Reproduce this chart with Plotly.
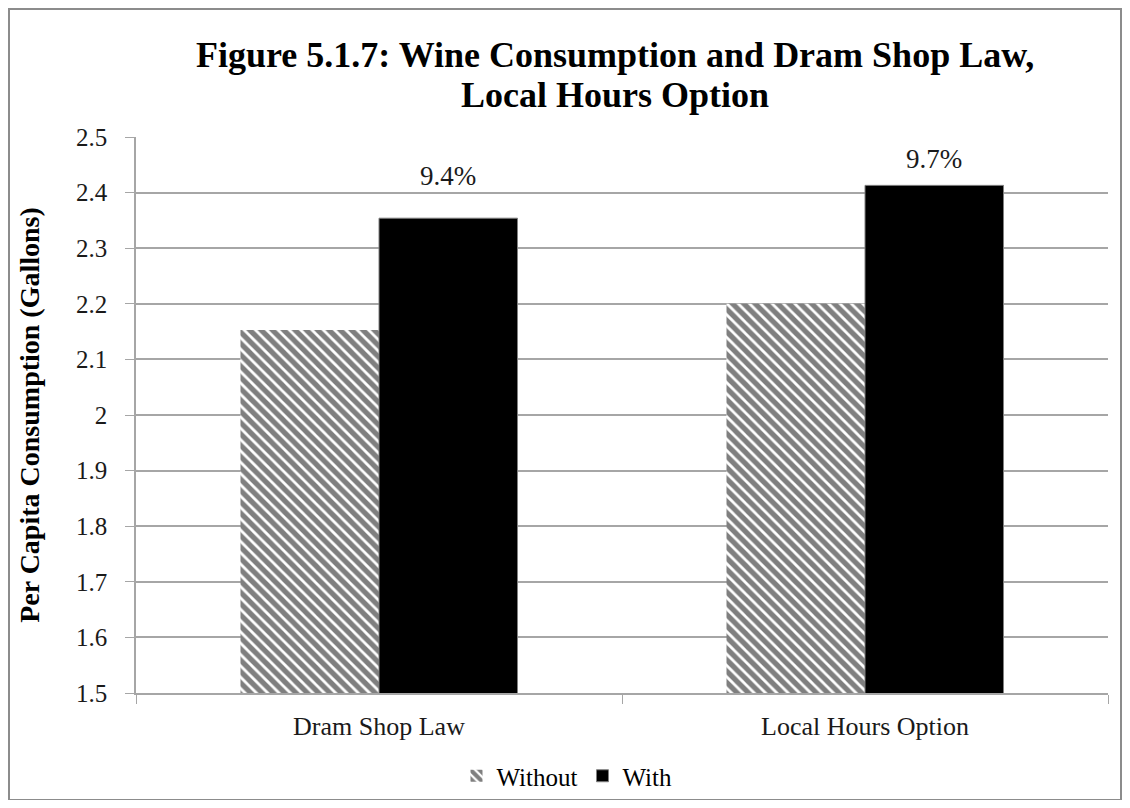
import plotly.graph_objects as go

categories = ["Dram Shop Law", "Local Hours Option"]
without_vals = [2.153, 2.200]
with_vals = [2.354, 2.413]
pct_labels = ["9.4%", "9.7%"]
y_ticks = [1.5, 1.6, 1.7, 1.8, 1.9, 2.0, 2.1, 2.2, 2.3, 2.4, 2.5]
y_tick_text = ["1.5", "1.6", "1.7", "1.8", "1.9", "2", "2.1", "2.2", "2.3", "2.4", "2.5"]
title_lines = ["Figure 5.1.7: Wine Consumption and Dram Shop Law,", "Local Hours Option"]

# the page body adds an 8px margin around the figure
OFF = 8
W, H = 1130 - 2 * OFF, 808 - 2 * OFF
ML, MR, MT, MB = 136 - OFF, 14, 137 - OFF, 107
PW, PH = W - ML - MR, H - MT - MB
BARGAP = 0.43
SERIF = "Liberation Serif, Times New Roman, serif"

fig = go.Figure()
fig.add_trace(go.Bar(
    name="Without", x=categories, y=without_vals,
    marker=dict(color="white", line=dict(width=0),
                pattern=dict(shape="\\", fgcolor="black", bgcolor="white",
                             size=8, solidity=0.65, fillmode="overlay")),
))
fig.add_trace(go.Bar(
    name="With", x=categories, y=with_vals,
    marker=dict(color="black", line=dict(color="#808080", width=1)),
))

# percentage labels above the "With" bars
label_shift = [42, 26]
offset = (1 - BARGAP) / 4
for i, (v, t) in enumerate(zip(with_vals, pct_labels)):
    fig.add_annotation(x=i + offset, y=v, text=t, showarrow=False,
                       yshift=label_shift[i], xref="x", yref="y",
                       font=dict(family=SERIF, size=27, color="#1a1a1a"))

def px_to_paper_x(px):
    return (px - OFF - ML) / PW

def px_to_paper_y(py):
    return (H - MB - (py - OFF)) / PH

# two-line bold title (tighter line spacing than plotly's title)
title_y = [55, 95]
for line, ty in zip(title_lines, title_y):
    fig.add_annotation(text="<b>" + line + "</b>", showarrow=False,
                       xref="paper", yref="paper",
                       x=px_to_paper_x(614.5), xanchor="center",
                       y=px_to_paper_y(ty), yanchor="middle",
                       font=dict(family=SERIF, size=36, color="black"))

# outer border of the chart
fig.add_shape(type="rect", xref="paper", yref="paper",
              x0=px_to_paper_x(9), x1=px_to_paper_x(1121),
              y0=px_to_paper_y(800), y1=px_to_paper_y(9),
              line=dict(color="#8c8c8c", width=2), fillcolor="rgba(0,0,0,0)",
              layer="below")

fig.update_layout(
    width=W, height=H,
    margin=dict(l=ML, r=MR, t=MT, b=MB, autoexpand=False),
    paper_bgcolor="white", plot_bgcolor="white",
    barmode="group", bargap=BARGAP, bargroupgap=0,
    font=dict(family=SERIF, size=25, color="black"),
    legend=dict(orientation="h", x=px_to_paper_x(567), xanchor="center",
                y=px_to_paper_y(776), yanchor="middle",
                font=dict(family=SERIF, size=25), itemwidth=30,
                bgcolor="rgba(0,0,0,0)"),
    showlegend=True,
)
fig.update_yaxes(range=[1.5, 2.5], tickvals=y_ticks, ticktext=y_tick_text,
                 showgrid=True, gridcolor="#a6a6a6", gridwidth=1.5,
                 showline=True, linecolor="#a6a6a6", linewidth=1.5,
                 ticks="outside", ticklen=9, tickcolor="#a6a6a6",
                 ticklabelstandoff=13,
                 tickfont=dict(family=SERIF, size=25, color="#1a1a1a"),
                 zeroline=False,
                 title=dict(text="<b>Per Capita Consumption (Gallons)</b>",
                            font=dict(family=SERIF, size=28, color="black"),
                            standoff=28))
fig.update_xaxes(showline=True, linecolor="#a6a6a6", linewidth=1.5,
                 ticks="outside", tickson="boundaries", ticklen=9,
                 tickcolor="#a6a6a6", ticklabelstandoff=9,
                 tickfont=dict(family=SERIF, size=26, color="#1a1a1a"))

fig.write_html("out.html")
